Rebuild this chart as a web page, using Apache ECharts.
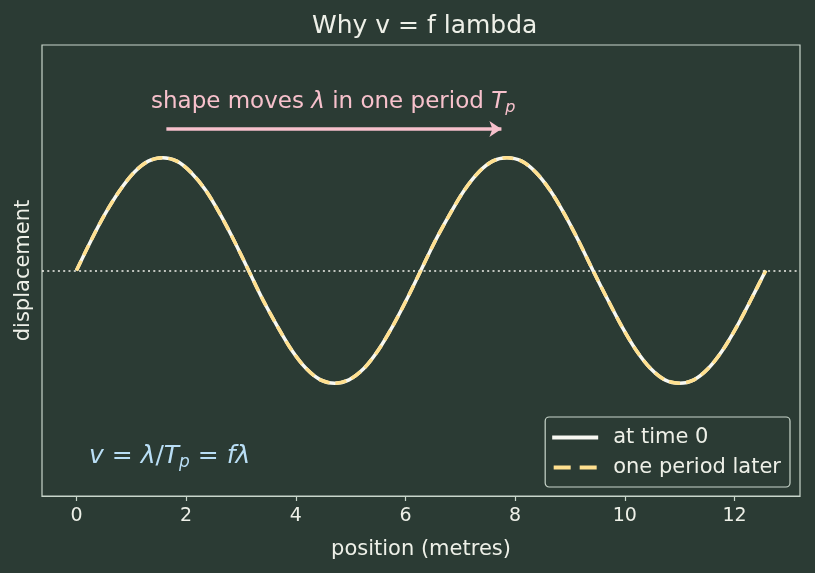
<!DOCTYPE html>
<html>
<head>
<meta charset="utf-8">
<script src="https://cdn.jsdelivr.net/npm/echarts@6/dist/echarts.min.js"></script>
<style>
  html, body { margin: 0; padding: 0; background: #2b3b34; }
  #chart { width: 815px; height: 573px; }
</style>
</head>
<body>
<div id="chart"></div>
<script>
// positions along the string (metres)
var positions = [0, 0.26, 0.52, 0.79, 1.05, 1.31, 1.57, 1.83, 2.09, 2.36, 2.62, 2.88, 3.14,
  3.40, 3.67, 3.93, 4.19, 4.45, 4.71, 4.97, 5.24, 5.50, 5.76, 6.02, 6.28,
  6.54, 6.81, 7.07, 7.33, 7.59, 7.85, 8.12, 8.38, 8.64, 8.90, 9.16, 9.42,
  9.69, 9.95, 10.21, 10.47, 10.73, 11.00, 11.26, 11.52, 11.78, 12.04, 12.30, 12.57];
// displacement at time 0
var dispTime0 = [0, 0.26, 0.5, 0.71, 0.87, 0.97, 1, 0.97, 0.87, 0.71, 0.5, 0.26, 0,
  -0.26, -0.5, -0.71, -0.87, -0.97, -1, -0.97, -0.87, -0.71, -0.5, -0.26, 0,
  0.26, 0.5, 0.71, 0.87, 0.97, 1, 0.97, 0.87, 0.71, 0.5, 0.26, 0,
  -0.26, -0.5, -0.71, -0.87, -0.97, -1, -0.97, -0.87, -0.71, -0.5, -0.26, 0];
// displacement one period later (same shape)
var dispLater = [0, 0.26, 0.5, 0.71, 0.87, 0.97, 1, 0.97, 0.87, 0.71, 0.5, 0.26, 0,
  -0.26, -0.5, -0.71, -0.87, -0.97, -1, -0.97, -0.87, -0.71, -0.5, -0.26, 0,
  0.26, 0.5, 0.71, 0.87, 0.97, 1, 0.97, 0.87, 0.71, 0.5, 0.26, 0,
  -0.26, -0.5, -0.71, -0.87, -0.97, -1, -0.97, -0.87, -0.71, -0.5, -0.26, 0];
var xTicks = [0, 2, 4, 6, 8, 10, 12];
// arrow: from first crest towards the next crest
var arrowFrom = [1.64, 1.255];
var arrowTo = [7.75, 1.255];

var BG = '#2b3b34';
var FG = '#c9d6cb';
var TXT = '#eef0e8';
var PINK = '#f7c1cc';
var BLUE = '#b9def5';
var FONT = 'DejaVu Sans';

function pairs(xs, ys) {
  return xs.map(function (x, i) { return [x, ys[i]]; });
}

var chart = echarts.init(document.getElementById('chart'));
chart.setOption({
  backgroundColor: BG,
  animation: false,
  title: [{
    text: 'Why v = f lambda',
    left: 307,
    top: 9,
    textStyle: { color: TXT, fontSize: 25, fontWeight: 'normal', fontFamily: FONT }
  }, {
    // annotation above the arrow
    text: '{a|shape moves }{i|λ}{a| in one period }{i|T}{s|p}',
    left: 146,
    top: 84,
    textStyle: {
      fontWeight: 'normal',
      rich: {
        a: { color: PINK, fontSize: 23, fontFamily: FONT, fontWeight: 'normal' },
        i: { color: PINK, fontSize: 23, fontFamily: FONT, fontWeight: 'normal', fontStyle: 'italic' },
        s: { color: PINK, fontSize: 16, fontFamily: FONT, fontWeight: 'normal', fontStyle: 'italic', padding: [11, 0, 0, 0] }
      }
    }
  }, {
    text: '{i|v}{a| = }{i|λ}{a|/}{i|T}{s|p}{a| = }{i|fλ}',
    left: 84,
    top: 437,
    textStyle: {
      fontWeight: 'normal',
      rich: {
        a: { color: BLUE, fontSize: 25, fontFamily: FONT, fontWeight: 'normal' },
        i: { color: BLUE, fontSize: 25, fontFamily: FONT, fontWeight: 'normal', fontStyle: 'italic' },
        s: { color: BLUE, fontSize: 17, fontFamily: FONT, fontWeight: 'normal', fontStyle: 'italic', padding: [12, 0, 0, 0] }
      }
    }
  }],
  legend: {
    orient: 'vertical',
    right: 25,
    bottom: 86,
    padding: [10, 9, 9, 7],
    itemGap: 9,
    itemWidth: 46,
    itemHeight: 4,
    backgroundColor: BG,
    borderColor: FG,
    borderWidth: 1.2,
    borderRadius: 4,
    textStyle: { color: TXT, fontSize: 21, fontFamily: FONT, padding: [0, 0, 0, 10] },
    data: [
      { name: 'at time 0', icon: 'rect' },
      { name: 'one period later', icon: 'path://M0,0 h17 v4 h-17z M26,0 h17 v4 h-17z' }
    ]
  },
  grid: {
    left: 42, right: 15, top: 45, bottom: 77,
    show: true, borderColor: FG, borderWidth: 1.2, backgroundColor: 'transparent'
  },
  xAxis: {
    type: 'value',
    min: -0.628,
    max: 13.195,
    name: 'position (metres)',
    nameLocation: 'middle',
    nameGap: 43,
    nameTextStyle: { color: TXT, fontSize: 21, fontFamily: FONT },
    axisLine: { show: true, onZero: false, lineStyle: { color: FG, width: 1.2 } },
    axisTick: { show: true, length: 5, customValues: xTicks, lineStyle: { color: FG, width: 1.2 } },
    axisLabel: { customValues: xTicks, color: TXT, fontSize: 19, margin: 11, fontFamily: FONT },
    splitLine: { show: false }
  },
  yAxis: {
    type: 'value',
    min: -2,
    max: 2,
    name: 'displacement',
    nameLocation: 'middle',
    nameGap: 8,
    nameTextStyle: { color: TXT, fontSize: 21, fontFamily: FONT },
    axisLine: { show: false },
    axisTick: { show: false },
    axisLabel: { show: false },
    splitLine: { show: false }
  },
  series: [{
    name: 'at time 0',
    type: 'line',
    data: pairs(positions, dispTime0),
    smooth: 0.3,
    showSymbol: false,
    symbol: 'none',
    color: '#f8f8f2',
    lineStyle: { color: '#f8f8f2', width: 3.5 },
    markLine: {
      silent: true,
      symbol: ['none', 'none'],
      label: { show: false },
      lineStyle: { color: '#f2f2ec', type: [2, 3.3], width: 1.5 },
      data: [{ yAxis: 0 }]
    },
    z: 2
  }, {
    name: 'one period later',
    type: 'line',
    data: pairs(positions, dispLater),
    smooth: 0.3,
    showSymbol: false,
    symbol: 'none',
    color: '#ffe08f',
    lineStyle: { color: '#ffe08f', width: 3.5, type: [11, 6] },
    markLine: {
      silent: true,
      symbol: ['none', 'arrow'],
      symbolSize: [12, 12],
      label: { show: false },
      lineStyle: { color: PINK, type: 'solid', width: 3.5 },
      data: [[{ coord: arrowFrom }, { coord: arrowTo }]]
    },
    z: 3
  }]
});
</script>
</body>
</html>
